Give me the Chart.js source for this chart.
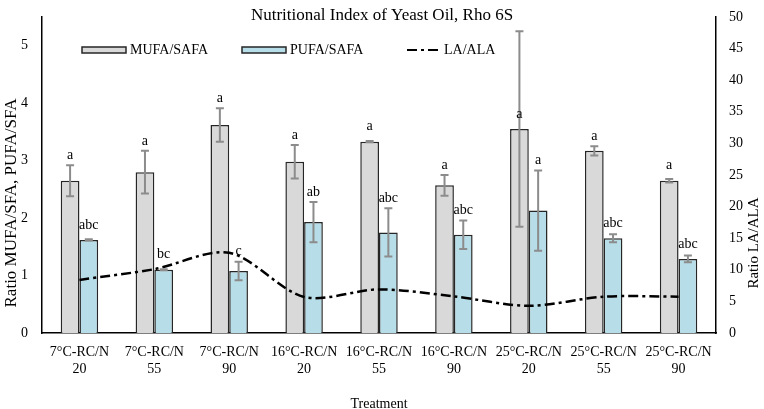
<!DOCTYPE html>
<html>
<head>
<meta charset="utf-8">
<script src="https://cdn.jsdelivr.net/npm/chart.js@4.4.1/dist/chart.umd.min.js"></script>
<style>
  html, body { margin: 0; padding: 0; background: #fff; }
  #wrap { position: relative; width: 764px; height: 409px; }
</style>
</head>
<body>
<div id="wrap"><canvas id="grafico"></canvas></div>
<script>
// Treatments on the x axis (two lines each)
const treatments = [
    ['7°C-RC/N', '20'], ['7°C-RC/N', '55'], ['7°C-RC/N', '90'],
    ['16°C-RC/N', '20'], ['16°C-RC/N', '55'], ['16°C-RC/N', '90'],
    ['25°C-RC/N', '20'], ['25°C-RC/N', '55'], ['25°C-RC/N', '90']
];

// Ratios
const mufaSafa = [2.65, 2.80, 3.62, 2.98, 3.33, 2.57, 3.55, 3.17, 2.65];
const mufaErr  = [0.27, 0.37, 0.29, 0.29, 0.01, 0.18, 1.70, 0.08, 0.03];
const pufaSafa = [1.62, 1.10, 1.08, 1.93, 1.75, 1.71, 2.13, 1.65, 1.29];
const pufaErr  = [0.01, 0.01, 0.16, 0.35, 0.42, 0.25, 0.70, 0.07, 0.06];
const laAla    = [8.4, 10.1, 12.7, 5.7, 6.9, 5.8, 4.3, 5.75, 5.75];

// Significance letters
const mufaLetters = ['a', 'a', 'a', 'a', 'a', 'a', 'a', 'a', 'a'];
const pufaLetters = ['abc', 'bc', 'c', 'ab', 'abc', 'abc', 'a', 'abc', 'abc'];

// Tick labels
const leftTicks  = [0, 1, 2, 3, 4, 5];
const rightTicks = [0, 5, 10, 15, 20, 25, 30, 35, 40, 45, 50];

const serif = '"Liberation Serif", "Times New Roman", serif';
Chart.defaults.font.family = serif;
Chart.defaults.color = '#000';

/**
 * Error bars, letters, legend and the two y axis titles.
 */
const extras = {
    id: 'extras',
    afterDatasetsDraw(chart) {
        const ctx = chart.ctx;
        const yScale = chart.scales.y;
        const series = [[0, mufaErr, mufaLetters], [1, pufaErr, pufaLetters]];
        series.forEach(([di, errs, letters]) => {
            const meta = chart.getDatasetMeta(di);
            const vals = chart.data.datasets[di].data;
            meta.data.forEach((bar, i) => {
                const top = yScale.getPixelForValue(vals[i] + errs[i]);
                const bot = yScale.getPixelForValue(vals[i] - errs[i]);
                ctx.save();
                ctx.strokeStyle = '#8c8c8c';
                ctx.lineWidth = 2;
                ctx.beginPath();
                ctx.moveTo(bar.x, top); ctx.lineTo(bar.x, bot);
                ctx.moveTo(bar.x - 4, top); ctx.lineTo(bar.x + 4, top);
                ctx.moveTo(bar.x - 4, bot); ctx.lineTo(bar.x + 4, bot);
                ctx.stroke();

                let ly = bar.y - 15;
                if (errs[i] < 1) ly = Math.min(ly, top - 10);
                ctx.fillStyle = '#000';
                ctx.font = '14px ' + serif;
                ctx.textAlign = 'center';
                ctx.textBaseline = 'middle';
                ctx.fillText(letters[i], bar.x, ly);
                ctx.restore();
            });
        });
    },
    afterDraw(chart) {
        const ctx = chart.ctx;
        const area = chart.chartArea;
        const ds = chart.data.datasets;

        // legend inside the plot area
        ctx.save();
        ctx.font = '14px ' + serif;
        ctx.textBaseline = 'middle';
        ctx.textAlign = 'left';
        ctx.fillStyle = '#000';
        const ly = area.top + 33;
        let lx = area.left + 40;
        [0, 1].forEach(i => {
            ctx.fillStyle = ds[i].backgroundColor;
            ctx.fillRect(lx, ly - 3, 44, 6);
            ctx.strokeStyle = ds[i].borderColor;
            ctx.lineWidth = 1.5;
            ctx.strokeRect(lx, ly - 3, 44, 6);
            ctx.fillStyle = '#000';
            ctx.fillText(ds[i].label, lx + 48, ly);
            lx += 160;
        });
        ctx.strokeStyle = ds[2].borderColor;
        ctx.lineWidth = 2;
        ctx.setLineDash(ds[2].borderDash);
        ctx.beginPath();
        ctx.moveTo(lx + 5, ly); ctx.lineTo(lx + 39, ly);
        ctx.stroke();
        ctx.setLineDash([]);
        ctx.fillText(ds[2].label, lx + 42, ly);

        // axis titles
        ctx.textAlign = 'center';
        ctx.font = '17px ' + serif;
        ctx.translate(12, 203);
        ctx.rotate(-Math.PI / 2);
        ctx.fillText('Ratio MUFA/SFA, PUFA/SFA', 0, 0);
        ctx.restore();

        ctx.save();
        ctx.font = '15px ' + serif;
        ctx.fillStyle = '#000';
        ctx.textAlign = 'center';
        ctx.textBaseline = 'middle';
        ctx.translate(754, 243);
        ctx.rotate(-Math.PI / 2);
        ctx.fillText('Ratio LA/ALA', 0, 0);
        ctx.restore();
    }
};

new Chart(document.getElementById('grafico').getContext('2d'), {
    data: {
        labels: treatments,
        datasets: [{
            type: 'bar',
            label: 'MUFA/SAFA',
            data: mufaSafa,
            backgroundColor: '#d9d9d9',
            borderColor: '#262626',
            borderWidth: 1.5,
            yAxisID: 'y',
            order: 1
        }, {
            type: 'bar',
            label: 'PUFA/SAFA',
            data: pufaSafa,
            backgroundColor: '#b7dee8',
            borderColor: '#262626',
            borderWidth: 1.5,
            yAxisID: 'y',
            order: 1
        }, {
            type: 'line',
            label: 'LA/ALA',
            data: laAla,
            borderColor: '#000',
            borderWidth: 2.5,
            borderDash: [10, 4, 3, 4],
            pointRadius: 0,
            tension: 0.3,
            fill: false,
            yAxisID: 'y1',
            order: 0
        }]
    },
    options: {
        responsive: true,
        maintainAspectRatio: false,
        animation: false,
        datasets: { bar: { categoryPercentage: 0.5, barPercentage: 1 } },
        layout: { padding: 0 },
        plugins: {
            legend: { display: false },
            tooltip: { enabled: false },
            title: {
                display: true,
                text: 'Nutritional Index of Yeast Oil, Rho 6S',
                color: '#000',
                font: { size: 17, weight: 'normal', lineHeight: 0.2 },
                padding: { top: 14.3, bottom: -0.7 }
            }
        },
        scales: {
            x: {
                grid: { display: false, drawTicks: false },
                border: { display: true, color: '#000', width: 1.5 },
                ticks: { font: { size: 14 }, padding: 11, maxRotation: 0, autoSkip: false, color: '#000' },
                title: { display: true, text: 'Treatment', font: { size: 14 }, padding: { top: 0, bottom: -4 }, color: '#000' },
                afterFit: s => { s.height = 76; }
            },
            y: {
                position: 'left',
                min: 0,
                max: 5.5,
                grid: { display: false, drawTicks: true, tickLength: 14 },
                border: { display: true, color: '#000', width: 1.5 },
                ticks: { font: { size: 14 }, padding: 0, color: '#000' },
                afterBuildTicks: s => { s.ticks = leftTicks.map(v => ({ value: v })); },
                afterFit: s => { s.width = 42; }
            },
            y1: {
                position: 'right',
                min: 0,
                max: 50,
                grid: { display: false, drawTicks: true, tickLength: 13 },
                border: { display: true, color: '#000', width: 1.5 },
                ticks: { font: { size: 14 }, padding: 0, color: '#000' },
                afterBuildTicks: s => { s.ticks = rightTicks.map(v => ({ value: v })); },
                afterFit: s => { s.width = 48; }
            }
        }
    },
    plugins: [extras]
});
</script>
</body>
</html>
